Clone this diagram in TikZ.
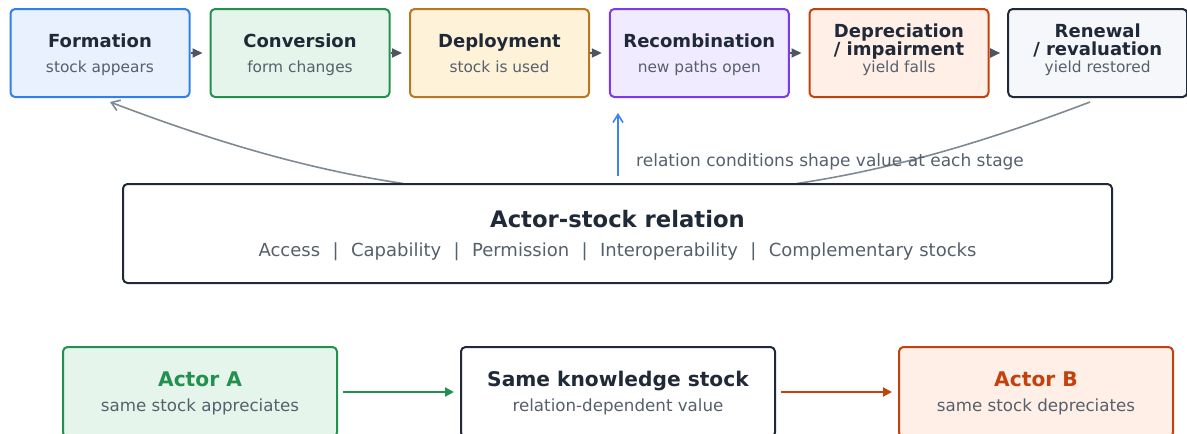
\documentclass[tikz,border=0pt]{standalone}
\usepackage{fontspec}
\setmainfont{DejaVu Sans}
\usepackage{tikz}
\usetikzlibrary{arrows.meta}
\definecolor{ink}{HTML}{1F2937}
\definecolor{muted}{HTML}{56606C}
\definecolor{slate}{HTML}{4B5563}
\definecolor{curvegray}{HTML}{7E8A93}
\definecolor{formline}{HTML}{2F80ED}
\definecolor{formfill}{HTML}{E8F1FD}
\definecolor{convline}{HTML}{22904F}
\definecolor{convfill}{HTML}{E6F5EC}
\definecolor{deplline}{HTML}{B7791F}
\definecolor{deplfill}{HTML}{FEF3D9}
\definecolor{recoline}{HTML}{7C3AED}
\definecolor{recofill}{HTML}{F0EBFE}
\definecolor{deprline}{HTML}{C2410C}
\definecolor{deprfill}{HTML}{FFEFE6}
\definecolor{reneline}{HTML}{1F2937}
\definecolor{renefill}{HTML}{F5F7FA}
\definecolor{upblue}{HTML}{3B82F6}
\newcommand{\relsep}{\hspace{12.4pt}|\hspace{12.4pt}}

\begin{document}
\begin{tikzpicture}[x=1pt,y=-1pt,line join=round,
  box/.style={draw,line width=2pt,rounded corners=4.5pt,inner sep=0pt},
  stage/.style={box,minimum width=179pt,minimum height=88pt},
  actor/.style={box,minimum width=274pt,minimum height=90pt},
  ttl/.style={anchor=base,inner sep=0pt,text=ink,font=\fontsize{18}{18}\selectfont\bfseries},
  sub/.style={anchor=base,inner sep=0pt,text=muted,font=\fontsize{15.4}{16}\selectfont},
  bigttl/.style={anchor=base,inner sep=0pt,text=ink,font=\fontsize{20.2}{22}\selectfont\bfseries},
  bigsub/.style={anchor=base,inner sep=0pt,text=muted,font=\fontsize{16.7}{18}\selectfont},
  flow/.style={draw=slate,line width=2pt,shorten >=7pt,-{Triangle[length=10pt,width=9pt]}},
  link/.style={line width=2pt,shorten <=5pt,shorten >=6pt,-{Triangle[length=9pt,width=9pt]}},
  ]
\useasboundingbox (0,0) rectangle (1187,434);
%% curved relation links (under the relation box)
  \coordinate (lc-a) at (403,183.5);
  \coordinate (lc-b) at (110,102);
  \coordinate (rc-a) at (797,183.5);
  \coordinate (rc-b) at (1090,102);
  \draw [curvegray,line width=1.6pt,-{Straight Barb[length=8pt,width=11pt]}] (lc-a) .. controls (303,168.5) and (210,140) .. (lc-b);
  \draw [curvegray,line width=1.6pt] (rc-a) .. controls (897,168.5) and (990,140) .. (rc-b);
%% stages
  \node (form) at (100,53) [stage,draw=formline,fill=formfill] {};
  \node (conv) at (300,53) [stage,draw=convline,fill=convfill] {};
  \node (depl) at (499.5,53) [stage,draw=deplline,fill=deplfill] {};
  \node (reco) at (699.3,53) [stage,draw=recoline,fill=recofill] {};
  \node (depr) at (899,53) [stage,draw=deprline,fill=deprfill] {};
  \node (rene) at (1097.7,53) [stage,draw=reneline,fill=renefill] {};
  \node (form-t) at (100,47.6) [ttl] {Formation};
  \node (form-s) at (100,72.7) [sub] {stock appears};
  \node (conv-t) at (300,47.6) [ttl] {Conversion};
  \node (conv-s) at (300,72.7) [sub] {form changes};
  \node (depl-t) at (499.5,47.6) [ttl] {Deployment};
  \node (depl-s) at (499.5,72.7) [sub] {stock is used};
  \node (reco-t) at (699.3,47.6) [ttl] {Recombination};
  \node (reco-s) at (699.3,72.7) [sub] {new paths open};
  \node (depr-t) at (899,37.3) [ttl] {Depreciation};
  \node (depr-u) at (899,55) [ttl] {/ impairment};
  \node (depr-s) at (899,72.7) [sub] {yield falls};
  \node (rene-t) at (1097.7,37.3) [ttl] {Renewal};
  \node (rene-u) at (1097.7,55) [ttl] {/ revaluation};
  \node (rene-s) at (1097.7,72.7) [sub] {yield restored};
  \draw [flow] (form) -- (conv);
  \draw [flow] (conv) -- (depl);
  \draw [flow] (depl) -- (reco);
  \draw [flow] (reco) -- (depr);
  \draw [flow] (depr) -- (rene);
%% relation
  \node (rel) at (617.5,233.5) [box,draw=ink,fill=white,minimum width=989pt,minimum height=99pt] {};
  \node (rel-t) at (617.5,227.5) [anchor=base,inner sep=0pt,text=ink,font=\fontsize{22.7}{25}\selectfont\bfseries] {Actor-stock relation};
  \node (rel-s) at (617.5,256) [anchor=base,inner sep=0pt,text=muted,font=\fontsize{18}{20}\selectfont]
    {Access\relsep Capability\relsep Permission\relsep Interoperability\relsep Complementary stocks};
  \coordinate (up-tail) at (618,176);
  \coordinate (up-tip) at (618,113);
  \draw [upblue,line width=1.6pt,-{Straight Barb[length=8pt,width=10pt]}] (up-tail) -- (up-tip);
  \node (cond) at (636,166.5) [anchor=base west,inner sep=0pt,text=muted,font=\fontsize{17}{19}\selectfont] {relation conditions shape value at each stage};
%% actors
  \node (actA) at (200,392) [actor,draw=convline,fill=convfill] {};
  \node (stock) at (618,392) [box,draw=ink,fill=white,minimum width=314pt,minimum height=90pt] {};
  \node (actB) at (1036,392) [actor,draw=deprline,fill=deprfill] {};
  \node (actA-t) at (200,386.5) [bigttl,text=convline] {Actor A};
  \node (actA-s) at (200,411.5) [bigsub] {same stock appreciates};
  \node (stock-t) at (618,386.5) [bigttl] {Same knowledge stock};
  \node (stock-s) at (618,411.5) [bigsub] {relation-dependent value};
  \node (actB-t) at (1036,386.5) [bigttl,text=deprline] {Actor B};
  \node (actB-s) at (1036,411.5) [bigsub] {same stock depreciates};
  \draw [link,convline] (actA) -- (stock);
  \draw [link,deprline] (stock) -- (actB);
%
\end{tikzpicture}
\end{document}
